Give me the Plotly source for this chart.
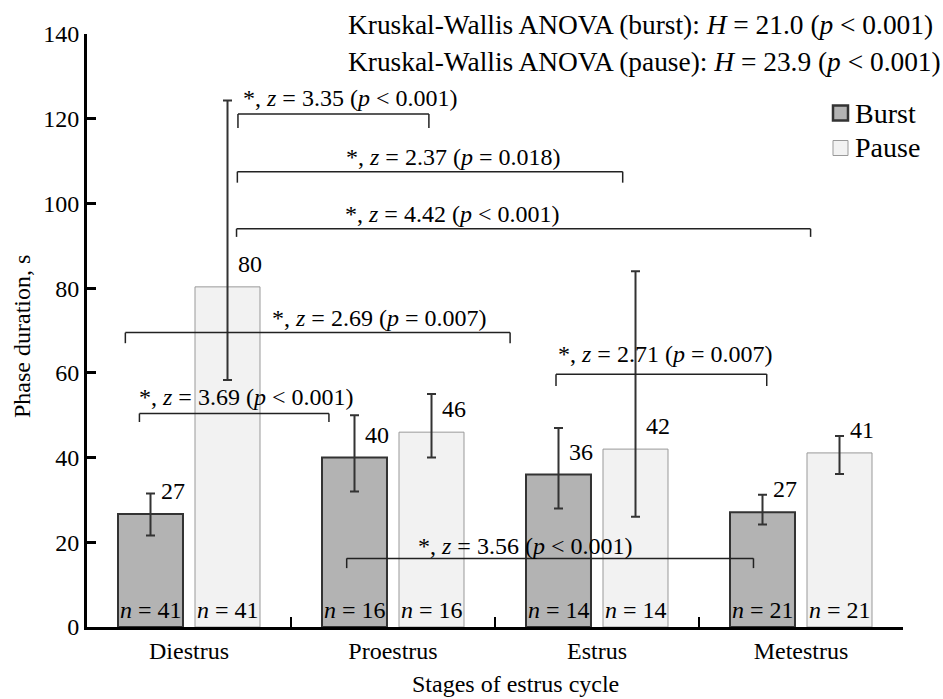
import plotly.graph_objects as go

# ---------------- data ----------------
stages = ["Diestrus", "Proestrus", "Estrus", "Metestrus"]

burst_mean = [26.7, 40.0, 36.0, 27.1]
burst_err_plus = [4.8, 10.0, 11.0, 4.1]
burst_err_minus = [5.1, 8.0, 8.0, 2.9]
burst_n = [41, 16, 14, 21]

pause_mean = [80.3, 46.0, 42.0, 41.1]
pause_err_plus = [44.0, 9.0, 42.0, 4.0]
pause_err_minus = [22.0, 6.0, 16.0, 5.0]
pause_n = [41, 16, 14, 21]

series_names = ["Burst", "Pause"]
y_ticks = [0, 20, 40, 60, 80, 100, 120, 140]

kw_burst = ("burst", 21.0, "&lt; 0.001")
kw_pause = ("pause", 23.9, "&lt; 0.001")

# pairwise comparisons: z value and p text
comp_z = [3.35, 2.37, 4.42, 2.69, 2.71, 3.69, 3.56]
comp_p = ["&lt; 0.001", "= 0.018", "&lt; 0.001", "= 0.007", "= 0.007", "&lt; 0.001", "&lt; 0.001"]

# bracket geometry (category-index units / data units): x0, x1, y, drop, text_x, text_y
brackets = [
    (0.240, 1.176, 121.1, 3.3, 0.789, 124.9),
    (0.237, 2.126, 107.5, 2.6, 1.292, 110.9),
    (0.233, 3.047, 94.0, 1.9, 1.289, 97.5),
    (-0.312, 1.574, 69.5, 2.5, 0.931, 72.9),
    (1.799, 2.832, 59.7, 2.8, 2.333, 64.4),
    (-0.243, 0.686, 50.4, 2.0, 0.278, 54.4),
    (0.773, 2.767, 16.2, 2.3, 1.647, 19.1),
]

# ---------------- layout constants ----------------
W, H = 943, 699
ML, MR, MT, MB = 87, 40, 34, 72
PW, PH = W - ML - MR, H - MT - MB
FONT = "Liberation Serif, Times New Roman, serif"
FS = 24
BARGAP = 0.245
BARGROUPGAP = 0.156
OFF = (1 - BARGAP) / 4  # bar centre offset in category units

BURST_FILL, BURST_LINE = "#b3b3b3", "#333333"
PAUSE_FILL, PAUSE_LINE = "#f2f2f2", "#999999"


def px_x(px):
    return (px - ML) / PW


def px_y(py):
    return 1 - (py - MT) / PH


fig = go.Figure()
fig.add_trace(go.Bar(
    x=stages, y=burst_mean, name=series_names[0],
    marker=dict(color=BURST_FILL, line=dict(color=BURST_LINE, width=2)),
    error_y=dict(type="data", symmetric=False, array=burst_err_plus,
                 arrayminus=burst_err_minus, color="#333333", thickness=2, width=4.5),
))
fig.add_trace(go.Bar(
    x=stages, y=pause_mean, name=series_names[1],
    marker=dict(color=PAUSE_FILL, line=dict(color=PAUSE_LINE, width=1)),
    error_y=dict(type="data", symmetric=False, array=pause_err_plus,
                 arrayminus=pause_err_minus, color="#333333", thickness=2, width=4.5),
))

ann = []
shapes = []
# value labels and n labels
for sign, means, ns in ((-1, burst_mean, burst_n), (1, pause_mean, pause_n)):
    for i, (m, n) in enumerate(zip(means, ns)):
        xc = i + sign * OFF
        ann.append(dict(x=xc + 0.11, y=m, xref="x", yref="y", text=f"{round(m)}",
                        showarrow=False, yshift=23, xanchor="center", yanchor="middle",
                        font=dict(size=FS, family=FONT, color="black")))
        ann.append(dict(x=xc, y=0, xref="x", yref="y", text=f"<i>n</i> = {n}",
                        showarrow=False, yshift=17, xanchor="center", yanchor="middle",
                        font=dict(size=FS, family=FONT, color="black")))

# comparison brackets
for (x0, x1, y, d, tx, ty), z, p in zip(brackets, comp_z, comp_p):
    line = dict(color="#222222", width=1.5)
    shapes.append(dict(type="line", xref="x", yref="y", x0=x0, x1=x1, y0=y, y1=y, line=line))
    shapes.append(dict(type="line", xref="x", yref="y", x0=x0, x1=x0, y0=y, y1=y - d, line=line))
    shapes.append(dict(type="line", xref="x", yref="y", x0=x1, x1=x1, y0=y, y1=y - d, line=line))
    ann.append(dict(x=tx, y=ty, xref="x", yref="y",
                    text=f"*, <i>z</i> = {z:.2f} (<i>p</i> {p})",
                    showarrow=False, xanchor="center", yanchor="middle",
                    font=dict(size=FS, family=FONT, color="black")))

# Kruskal-Wallis header
for (grp, hval, ptxt), ypx in ((kw_burst, 25), (kw_pause, 62)):
    ann.append(dict(x=px_x(346), y=px_y(ypx), xref="paper", yref="paper",
                    text=f"Kruskal-Wallis ANOVA ({grp}): <i>H</i> = {hval:.1f} (<i>p</i> {ptxt})",
                    showarrow=False, xanchor="left", yanchor="middle",
                    font=dict(size=27.4, family=FONT, color="black")))

# legend (drawn manually to match the square swatches)
for name, fill, edge, ew, ypx in ((series_names[0], BURST_FILL, BURST_LINE, 2.5, 113),
                                  (series_names[1], PAUSE_FILL, PAUSE_LINE, 1, 148)):
    shapes.append(dict(type="rect", xref="paper", yref="paper",
                       x0=px_x(833), x1=px_x(848), y0=px_y(ypx - 7.5), y1=px_y(ypx + 7.5),
                       fillcolor=fill, line=dict(color=edge, width=ew)))
    ann.append(dict(x=px_x(853), y=px_y(ypx), xref="paper", yref="paper", text=name,
                    showarrow=False, xanchor="left", yanchor="middle",
                    font=dict(size=28, family=FONT, color="black")))

# axis titles
ann.append(dict(x=px_x(515), y=px_y(684), xref="paper", yref="paper",
                text="Stages of estrus cycle", showarrow=False,
                xanchor="center", yanchor="middle",
                font=dict(size=FS, family=FONT, color="black")))
ann.append(dict(x=px_x(22), y=px_y(337), xref="paper", yref="paper",
                text="Phase duration, s", showarrow=False, textangle=-90,
                xanchor="center", yanchor="middle",
                font=dict(size=FS, family=FONT, color="black")))

fig.update_layout(
    width=W, height=H,
    margin=dict(l=ML, r=MR, t=MT, b=MB, autoexpand=False),
    paper_bgcolor="white", plot_bgcolor="white",
    barmode="group", bargap=BARGAP, bargroupgap=BARGROUPGAP,
    font=dict(family=FONT, size=FS, color="black"),
    showlegend=False,
    xaxis=dict(type="category", range=[-0.5, 3.5], showline=True, linecolor="black",
               linewidth=2.5, ticks="inside", tickson="boundaries", ticklen=10,
               tickwidth=2, tickcolor="black", showgrid=False, zeroline=False,
               tickfont=dict(size=FS, family=FONT, color="black")),
    yaxis=dict(range=[0, 140], tickvals=y_ticks, showline=True, linecolor="black",
               linewidth=3, ticks="inside", ticklen=9, tickwidth=2.5, tickcolor="black",
               showgrid=False, zeroline=False,
               tickfont=dict(size=FS, family=FONT, color="black")),
    annotations=ann, shapes=shapes,
)

fig.write_html("out.html")
